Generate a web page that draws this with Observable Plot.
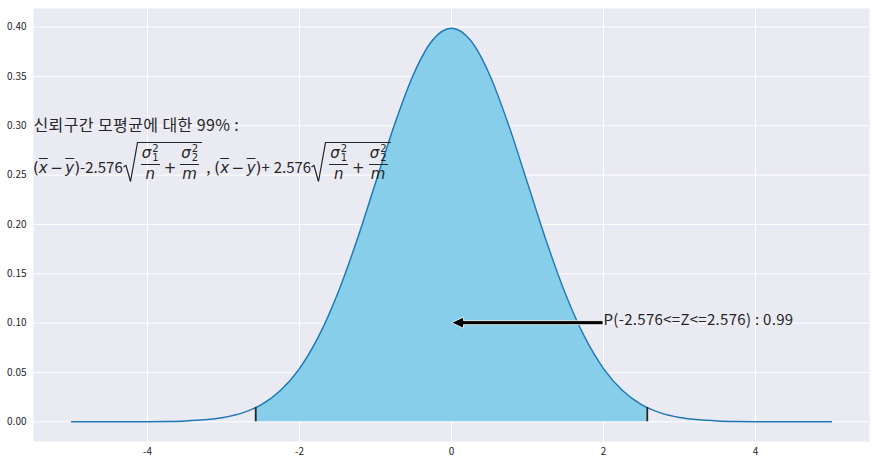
<!DOCTYPE html>
<html><head><meta charset="utf-8">
<script src="https://cdn.jsdelivr.net/npm/d3@7"></script>
<script src="https://cdn.jsdelivr.net/npm/@observablehq/plot@0.6"></script>
<style>
body{margin:0;background:#fff;}
#wrap{position:relative;width:877px;height:465px;font-family:"Noto Sans CJK KR","Noto Sans",sans-serif;color:#262626}
.formula{position:absolute;display:flex;align-items:center;font-size:15px;white-space:nowrap;line-height:1;font-family:"Noto Sans CJK KR","Noto Sans",sans-serif;color:#262626}
.m{font-family:"DejaVu Sans",sans-serif;font-style:italic;font-size:15px}
.mr{font-family:"DejaVu Sans",sans-serif;font-size:15px}
.ov{text-decoration:overline}
.low{position:relative;top:4px}
.sqrt{display:inline-flex;align-items:stretch}
.sqrt svg{display:block}
.radicand{display:inline-flex;align-items:center;border-top:1.2px solid #262626;padding:1px 2px 0 2px}
.frac{display:inline-flex;flex-direction:column;align-items:center;margin:0 1px}
.num{border-bottom:1.1px solid #262626;padding:0 1px 1px;display:inline-flex;align-items:center}
.den{padding-top:2px;padding-bottom:3px;line-height:15px}
.ss{display:inline-flex;flex-direction:column;font-family:"DejaVu Sans",sans-serif;font-size:10px;line-height:9.5px;margin-left:1px}
.op{margin:0 3px}
.bin{margin:0 2.5px}
.sp{display:inline-block;width:4px}
</style>
</head><body>
<div id="wrap">
<div id="chart"></div>
<div class="formula" id="formula">
<span class="low"><span class="mr">(</span><span class="m ov">x</span><span class="mr bin">−</span><span class="m ov">y</span><span class="mr">)</span>-2.576</span>
<span class="sqrt"><svg width="15" height="41" viewBox="0 0 15 41"><path d="M0.5,25 L3,23.5 L7.5,39.5 L14.5,0.6 L15,0.6" fill="none" stroke="#262626" stroke-width="1.2"/></svg><span class="radicand"><span class="frac"><span class="num"><span class="m">σ</span><span class="ss"><span>2</span><span>1</span></span></span><span class="den m">n</span></span><span class="op mr low">+</span><span class="frac"><span class="num"><span class="m">σ</span><span class="ss"><span>2</span><span>2</span></span></span><span class="den m">m</span></span></span></span>
<span class="low"><span class="sp"></span>,<span class="sp"></span><span class="mr">(</span><span class="m ov">x</span><span class="mr bin">−</span><span class="m ov">y</span><span class="mr">)</span>+<span class="sp"></span>2.576</span>
<span class="sqrt"><svg width="15" height="41" viewBox="0 0 15 41"><path d="M0.5,25 L3,23.5 L7.5,39.5 L14.5,0.6 L15,0.6" fill="none" stroke="#262626" stroke-width="1.2"/></svg><span class="radicand"><span class="frac"><span class="num"><span class="m">σ</span><span class="ss"><span>2</span><span>1</span></span></span><span class="den m">n</span></span><span class="op mr low">+</span><span class="frac"><span class="num"><span class="m">σ</span><span class="ss"><span>2</span><span>2</span></span></span><span class="den m">m</span></span></span></span>
</div>
</div>
<script>
// Standard normal density, read at 0.25 steps (plus the 99% bounds)
const zValues = [-5,-4.75,-4.5,-4.25,-4,-3.75,-3.5,-3.25,-3,-2.75,-2.576,-2.5,-2.25,-2,-1.75,-1.5,-1.25,-1,-0.75,-0.5,-0.25,0,0.25,0.5,0.75,1,1.25,1.5,1.75,2,2.25,2.5,2.576,2.75,3,3.25,3.5,3.75,4,4.25,4.5,4.75,5];
const densityValues = [0.0000015,0.0000052,0.000016,0.0000487,0.000134,0.000353,0.000873,0.00203,0.00443,0.00909,0.01446,0.01753,0.03174,0.05399,0.08628,0.12952,0.18265,0.24197,0.30114,0.35207,0.38667,0.39894,0.38667,0.35207,0.30114,0.24197,0.18265,0.12952,0.08628,0.05399,0.03174,0.01753,0.01446,0.00909,0.00443,0.00203,0.000873,0.000353,0.000134,0.0000487,0.000016,0.0000052,0.0000015];
const boundZ = [-2.576, 2.576];
const boundDensity = [0.01446, 0.01446];
const xTicks = [-4,-2,0,2,4];
const yTicks = [0,0.05,0.1,0.15,0.2,0.25,0.3,0.35,0.4];
const titleText = "신뢰구간 모평균에 대한 99% :";
const titleAt = [-5.5, 0.3];
const probText = "P(-2.576<=Z<=2.576) : 0.99";
const arrowFrom = [2, 0.1];
const arrowTo = [0, 0.1];

const curve = zValues.map((z, i) => ({z, d: densityValues[i]}));
const fillPart = curve.filter(p => p.z >= boundZ[0] && p.z <= boundZ[1]);
const bounds = boundZ.map((z, i) => ({z, d: boundDensity[i]}));

const chart = Plot.plot({
  width: 877, height: 465,
  marginLeft: 33, marginRight: 8, marginTop: 8, marginBottom: 24,
  style: {background: "#fff", fontFamily: "'Noto Sans CJK KR','Noto Sans',sans-serif", fontSize: "10px", color: "#262626"},
  x: {domain: [-5.5, 5.5], ticks: xTicks, tickSize: 0, tickPadding: 6, tickFormat: d => String(d), label: null},
  y: {domain: [-0.01995, 0.41889], ticks: yTicks, tickSize: 0, tickPadding: 7, tickFormat: d3.format(".2f"), label: null},
  marks: [
    Plot.frame({fill: "#EAEAF2", stroke: null}),
    Plot.ruleX(xTicks, {stroke: "#fff", strokeWidth: 1}),
    Plot.ruleY(yTicks, {stroke: "#fff", strokeWidth: 1}),
    Plot.areaY(fillPart, {x: "z", y: "d", fill: "#87CEEB", curve: "monotone-x"}),
    Plot.line(curve, {x: "z", y: "d", stroke: "#1f77b4", strokeWidth: 1.4, curve: "monotone-x"}),
    Plot.ruleX(bounds, {x: "z", y1: 0, y2: "d", stroke: "#262626", strokeWidth: 1.8}),
    Plot.text([titleText], {x: titleAt[0], y: titleAt[1], text: d => d, textAnchor: "start", fontSize: 16, fill: "#262626"}),
    Plot.text([probText], {x: arrowFrom[0], y: arrowFrom[1], text: d => d, textAnchor: "start", fontSize: 15, dy: -3, fill: "#262626"})
  ]
});
document.getElementById("chart").appendChild(chart);
chart.querySelectorAll("text").forEach(t => {
  if (t.textContent === titleText) t.style.letterSpacing = "0.4px";
  if (t.textContent === probText) t.style.letterSpacing = "0.3px";
});

const xs = chart.scale("x"), ys = chart.scale("y");
// arrow
const xt = xs.apply(arrowTo[0]) + 0.5, xf = xs.apply(arrowFrom[0]), yc = ys.apply(arrowTo[1]);
const hl = 12, hw = 5.5, sw = 2;
const pts = [[xf, yc-sw],[xt+hl, yc-sw],[xt+hl, yc-hw],[xt, yc],[xt+hl, yc+hw],[xt+hl, yc+sw],[xf, yc+sw]];
d3.select(chart).append("polygon")
  .attr("points", pts.map(p => p.join(",")).join(" "))
  .attr("fill", "#000").attr("stroke", "#fff").attr("stroke-width", 0.8);
// formula overlay
const f = document.getElementById("formula");
f.style.left = xs.apply(-5.5) + "px";
f.style.top = (ys.apply(0.25) - 33) + "px";
</script>
</body></html>
